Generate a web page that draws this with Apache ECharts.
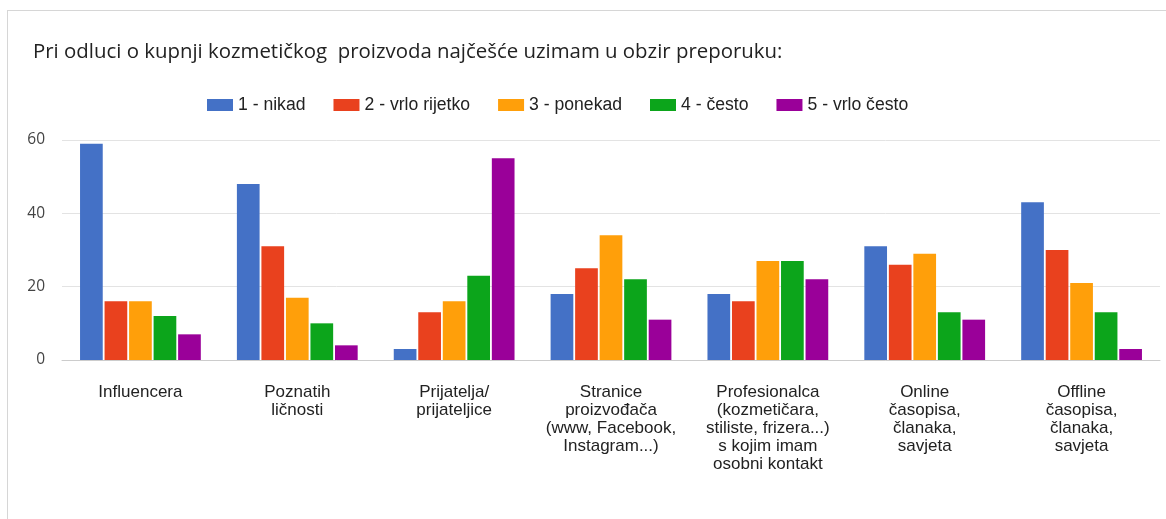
<!DOCTYPE html>
<html>
<head>
<meta charset="utf-8">
<script src="https://cdn.jsdelivr.net/npm/echarts@6/dist/echarts.min.js"></script>
<style>
  html, body { margin: 0; padding: 0; background: #fff; }
  #frame { position: absolute; left: 7px; top: 10px; width: 1200px; height: 600px;
           border-left: 1px solid #d6d6d6; border-top: 1px solid #d6d6d6; }
  #chart { position: absolute; left: 0; top: 0; width: 1166px; height: 519px; }
</style>
</head>
<body>
<div id="frame"></div>
<div id="chart"></div>
<script>
// Survey: how often a recommendation from each source is considered
const categories = [
  'Influencera',
  'Poznatih\nličnosti',
  'Prijatelja/\nprijateljice',
  'Stranice\nproizvođača\n(www, Facebook,\nInstagram...)',
  'Profesionalca\n(kozmetičara,\nstiliste, frizera...)\ns kojim imam\nosobni kontakt',
  'Online\nčasopisa,\nčlanaka,\nsavjeta',
  'Offline\nčasopisa,\nčlanaka,\nsavjeta'
];
const seriesNames = ['1 - nikad', '2 - vrlo rijetko', '3 - ponekad', '4 - često', '5 - vrlo često'];
const nikad       = [59, 48, 3, 18, 18, 31, 43];
const vrloRijetko = [16, 31, 13, 25, 16, 26, 30];
const ponekad     = [16, 17, 16, 34, 27, 29, 21];
const cesto       = [12, 10, 23, 22, 27, 13, 13];
const vrloCesto   = [7, 4, 55, 11, 22, 11, 3];
const yTicks = [0, 20, 40, 60];

const colors = ['#4471c6', '#e9411e', '#ff9f0a', '#0ca51b', '#9a0099'];
const values = [nikad, vrloRijetko, ponekad, cesto, vrloCesto];

const chart = echarts.init(document.getElementById('chart'), null, { renderer: 'canvas' });
chart.setOption({
  animation: false,
  color: colors,
  title: {
    text: 'Pri odluci o kupnji kozmetičkog  proizvoda najčešće uzimam u obzir preporuku:',
    left: 28,
    top: 37,
    textStyle: { fontFamily: 'Open Sans', fontSize: 20.4, fontWeight: 'normal', color: '#222' }
  },
  legend: {
    left: 202,
    top: 91,
    icon: 'rect',
    itemWidth: 26,
    itemHeight: 12,
    itemGap: 28,
    textStyle: { fontFamily: 'Liberation Sans', fontSize: 17.6, color: '#222' },
    data: seriesNames
  },
  grid: { left: 62, right: 6, top: 140, bottom: 159, containLabel: false },
  xAxis: {
    type: 'category',
    data: categories,
    axisLine: { lineStyle: { color: '#cccccc' } },
    axisTick: { show: false },
    axisLabel: {
      interval: 0,
      margin: 23,
      lineHeight: 18,
      fontFamily: 'Liberation Sans',
      fontSize: 17,
      color: '#222',
      align: 'center'
    }
  },
  yAxis: {
    type: 'value',
    min: yTicks[0],
    max: yTicks[yTicks.length - 1],
    interval: yTicks[1] - yTicks[0],
    axisLine: { show: false },
    axisTick: { show: false },
    splitLine: { lineStyle: { color: '#e3e3e3' } },
    axisLabel: { margin: 17, fontFamily: 'Open Sans', fontSize: 15.5, color: '#444' }
  },
  series: seriesNames.map((name, i) => ({
    name,
    type: 'bar',
    data: values[i],
    barCategoryGap: '23%',
    barGap: '8%'
  }))
});
</script>
</body>
</html>
